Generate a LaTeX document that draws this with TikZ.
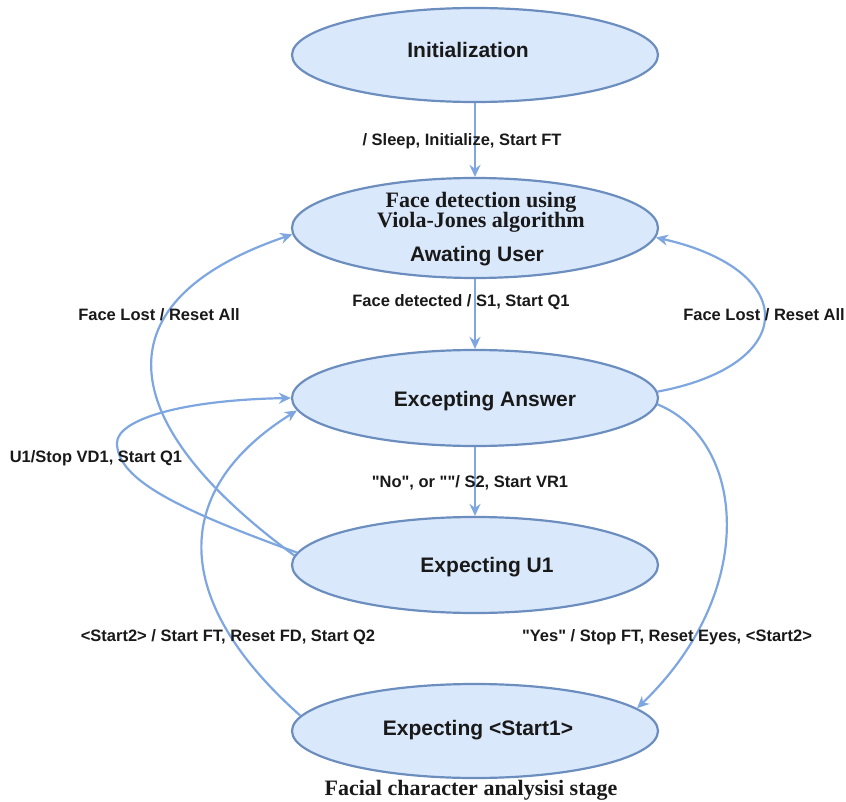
\documentclass[tikz,border=0pt]{standalone}
\usepackage{fontspec}
\setmainfont[Ligatures=TeXOff]{Liberation Sans}
\newfontfamily\timesfont{Liberation Serif}
\usetikzlibrary{shapes.geometric,arrows.meta}
\definecolor{statefill}{HTML}{DAE8FC}
\definecolor{stateline}{HTML}{6C8EBF}
\definecolor{edgeline}{HTML}{7EA6E0}
\begin{document}
\begin{tikzpicture}[x=1pt,y=-1pt,
  state/.style={ellipse, draw=stateline, fill=statefill, line width=2.2pt,
    minimum width=366pt, minimum height=96pt, inner sep=0pt},
  statetext/.style={anchor=base, text=black!90,
    font=\bfseries\fontsize{21}{24}\selectfont},
  serifline/.style={anchor=base, text=black!90,
    font=\timesfont\bfseries\fontsize{22}{24}\selectfont},
  edgelabel/.style={anchor=base, text=black!90,
    font=\bfseries\fontsize{16.5}{19}\selectfont},
  trans/.style={draw=edgeline, line width=2.2pt,
    -{Stealth[length=12pt,width=11pt]}}]
\useasboundingbox (0,0) rectangle (846,802);

% states
\node[state, minimum height=94pt]  (init) at (475,55)  {};
\node[state, minimum height=100pt] (face) at (475,228) {};
\node[state]                       (ans)  at (475,398) {};
\node[state]                       (u1)   at (475,565) {};
\node[state, minimum height=94pt]  (s1)   at (475,731) {};

% state texts
\node[statetext] (initT) at (468,58) {Initialization};
\node[serifline] (faceA) at (481,208) {Face detection using};
\node[serifline] (faceB) at (481,228) {Viola-Jones algorithm};
\node[statetext] (faceC) at (477,262) {Awating User};
\node[statetext] (ansT)  at (485,406) {Excepting Answer};
\node[statetext] (u1T)   at (487,572) {Expecting U1};
\node[statetext] (s1T)   at (478,735) {Expecting <Start1>};
\node[serifline] (cap)   at (471,795) {Facial character analysisi stage};

% straight transitions
\draw[trans] (init) -- (face);
\draw[trans] (face) -- (ans);
\draw[trans] (ans) -- (u1);

% curved transitions
\draw[trans] (u1.177) .. controls (110,420) and (100,300) .. (face.182);
\draw[trans] (u1.176) .. controls (180,510) and (117,480) .. (117,443)
                      .. controls (117,420) and (180,400) .. (ans.180);
\draw[trans] (s1.175) .. controls (170,600) and (170,490) .. (ans.184);
\draw[trans] (ans.2)  .. controls (800,365) and (800,270) .. (face.-3);
\draw[trans] (ans.-2) .. controls (745,440) and (760,590) .. (s1.8);

% transition labels
\node[edgelabel] (l1) at (462,146) {/ Sleep, Initialize, Start FT};
\node[edgelabel] (l2) at (461,307) {Face detected / S1, Start Q1};
\node[edgelabel] (l3) at (159,320) {Face Lost / Reset All};
\node[edgelabel] (l4) at (764,320) {Face Lost / Reset All};
\node[edgelabel] (l5) at (96,462)  {U1/Stop VD1, Start Q1};
\node[edgelabel] (l6) at (470,487) {"No", or ""/ S2, Start VR1};
\node[edgelabel] (l7) at (228,641) {<Start2> / Start FT, Reset FD, Start Q2};
\node[edgelabel] (l8) at (667,641) {"Yes" / Stop FT, Reset Eyes, <Start2>};
\end{tikzpicture}
\end{document}
